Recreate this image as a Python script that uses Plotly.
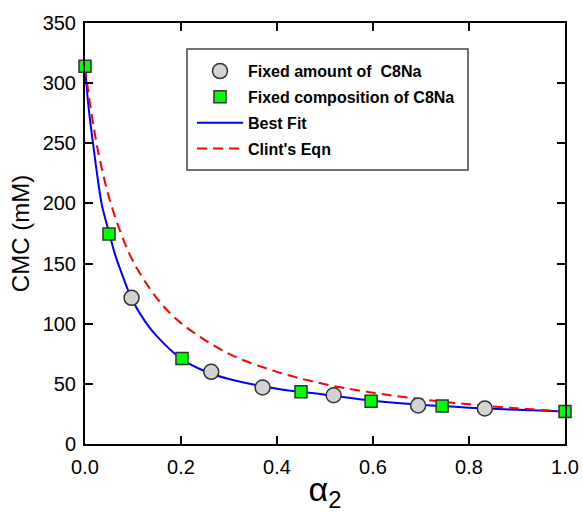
import plotly.graph_objects as go

# Data
amount_alpha = [0.097, 0.263, 0.370, 0.518, 0.694, 0.833]
amount_cmc = [121.5, 60.0, 47.0, 40.5, 32.0, 29.5]

comp_alpha = [0.0, 0.050, 0.202, 0.450, 0.596, 0.744, 1.0]
comp_cmc = [314.0, 174.5, 71.0, 43.5, 35.5, 31.5, 27.0]

fit_alpha = [0.0, 0.008, 0.017, 0.026, 0.035, 0.050, 0.063, 0.075, 0.097, 0.125, 0.150,
             0.200, 0.250, 0.300, 0.400, 0.500, 0.600, 0.700, 0.800, 0.900, 1.0]
fit_cmc = [313.0, 278.0, 249.0, 222.0, 199.0, 176.0, 157.0, 143.5, 121.0, 102.0, 89.5,
           71.0, 60.5, 54.0, 46.0, 41.0, 36.0, 32.6, 30.2, 28.4, 27.0]

clint_alpha = [0.0, 0.01, 0.02, 0.03, 0.05, 0.075, 0.10, 0.15, 0.20, 0.30, 0.40,
               0.50, 0.60, 0.70, 0.80, 0.90, 1.0]
clint_cmc = [314.0, 284.0, 259.0, 238.0, 205.0, 175.0, 152.0, 121.0, 100.5, 75.0, 60.0,
             49.7, 42.6, 37.2, 33.0, 29.7, 27.0]

FONT = "Liberation Sans, Arial, sans-serif"

fig = go.Figure()
fig.add_trace(go.Scatter(
    x=fit_alpha, y=fit_cmc, mode="lines", name="Best Fit", legendgroup="c",
    line=dict(color="#0000ff", width=2, shape="spline"), legendrank=3))
fig.add_trace(go.Scatter(
    x=clint_alpha, y=clint_cmc, mode="lines", name="Clint's Eqn", legendgroup="d",
    line=dict(color="#ff0000", width=2, dash="10px,6px", shape="spline"), legendrank=4))
fig.add_trace(go.Scatter(
    x=amount_alpha, y=amount_cmc, mode="markers", name="Fixed amount of  C8Na",
    legendgroup="a",
    marker=dict(symbol="circle", size=15, color="#d3d3d3",
                line=dict(color="#333333", width=1.5)), legendrank=1, cliponaxis=False))
fig.add_trace(go.Scatter(
    x=comp_alpha, y=comp_cmc, mode="markers", name="Fixed composition of C8Na",
    legendgroup="b",
    marker=dict(symbol="square", size=12, color="#00ff00",
                line=dict(color="#333333", width=1.5)), legendrank=2, cliponaxis=False))

axis_common = dict(
    showline=True, linecolor="black", linewidth=2, mirror="ticks",
    ticks="inside", ticklen=8, tickwidth=2, tickcolor="black",
    showgrid=False, zeroline=False, automargin=False,
    tickfont=dict(family=FONT, size=20, color="black"),
)

fig.update_layout(
    width=583, height=513,
    margin=dict(l=85, r=18, t=23, b=69),
    paper_bgcolor="white", plot_bgcolor="white",
    font=dict(family=FONT, color="black"),
    xaxis=dict(range=[0, 1], tickvals=[0, 0.2, 0.4, 0.6, 0.8, 1.0],
               tickformat=".1f", ticklabelstandoff=4,
               title=dict(text="α<sub>2</sub>", font=dict(family=FONT, size=34), standoff=4),
               **axis_common),
    yaxis=dict(range=[0, 350], tickvals=[0, 50, 100, 150, 200, 250, 300, 350],
               ticklabelstandoff=3,
               title=dict(text="CMC (mM)", font=dict(family=FONT, size=24), standoff=6),
               **axis_common),
    legend=dict(x=0.2229, y=0.926, xanchor="left", yanchor="top",
                borderwidth=0, bgcolor="rgba(0,0,0,0)",
                font=dict(family=FONT, size=16, color="black", weight="bold"),
                tracegroupgap=2, itemwidth=46,
                traceorder="grouped"),
    showlegend=True,
    shapes=[dict(type="rect", xref="paper", yref="paper",
                 x0=0.2125, x1=0.798, y0=0.651, y1=0.938,
                 line=dict(color="#444444", width=1.5), fillcolor="white", layer="below")],
)

fig.write_html("out.html")
